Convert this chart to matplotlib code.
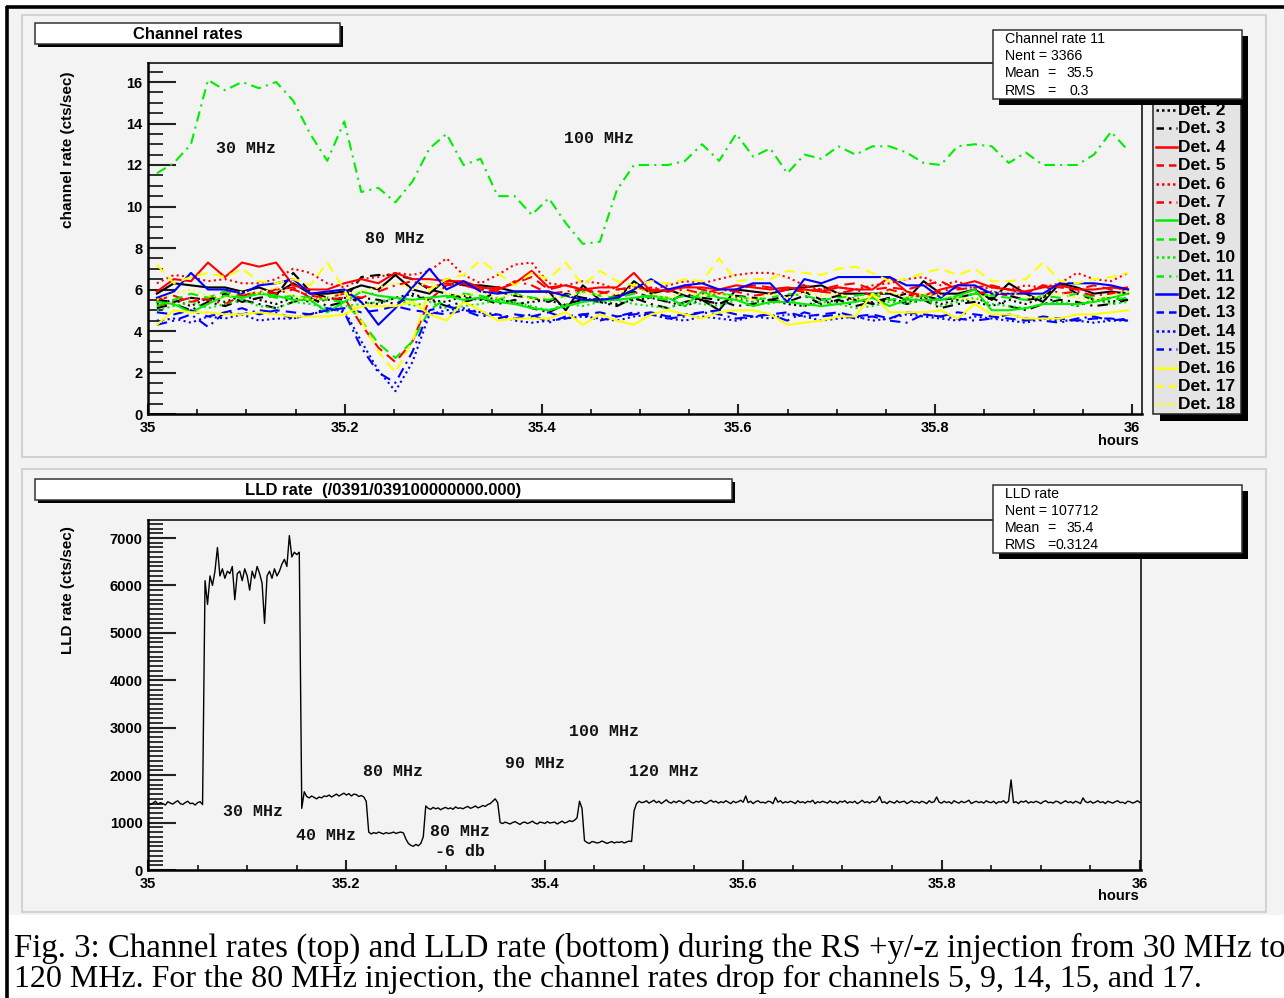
import numpy as np
import matplotlib
matplotlib.use("Agg")
import matplotlib.pyplot as plt
from matplotlib.patches import Rectangle
from matplotlib.ticker import MultipleLocator, FuncFormatter

plt.rcParams['font.family'] = ['Liberation Sans', 'DejaVu Sans']

# ---------------- data: channel rates (cts/sec), one-minute bins ----------------
det0 = [5.8, 6.3, 6.2, 6.1, 6.1, 5.9, 6.1, 5.8, 6.3, 5.8,
        5.8, 5.9, 6.2, 6.0, 6.7, 6.0, 5.8, 6.5, 6.2, 6.2,
        6.1, 5.9, 5.9, 5.9, 5.0, 6.2, 5.5, 5.5, 6.4, 5.8,
        6.0, 5.7, 5.5, 5.0, 6.0, 5.9, 5.8, 6.0, 6.1, 6.2,
        5.8, 5.8, 5.8, 5.8, 5.5, 6.4, 5.8, 5.8, 6.0, 5.5,
        6.3, 5.8, 5.4, 6.3, 6.1, 5.8, 5.9, 5.8]
det1 = [5.5, 5.4, 5.6, 5.5, 5.8, 5.4, 5.6, 5.7, 6.8, 5.9,
        5.6, 5.5, 6.6, 6.7, 6.7, 6.5, 6.0, 5.8, 5.6, 5.5,
        5.9, 5.7, 5.6, 5.4, 5.8, 5.6, 5.5, 5.7, 5.9, 5.6,
        5.4, 5.8, 5.5, 5.3, 5.7, 5.6, 5.5, 5.7, 5.9, 5.5,
        5.7, 5.5, 5.3, 5.6, 5.8, 5.7, 5.5, 5.6, 5.8, 5.9,
        5.7, 5.5, 5.6, 6.3, 5.8, 5.5, 5.6, 5.5]
det2 = [5.3, 5.5, 5.2, 5.6, 5.4, 5.7, 5.5, 5.3, 5.6, 5.4,
        5.5, 5.6, 5.4, 5.3, 5.6, 5.8, 5.5, 5.4, 5.7, 5.5,
        5.6, 5.3, 5.4, 5.5, 5.2, 5.6, 5.4, 5.3, 5.5, 5.6,
        5.4, 5.2, 5.5, 5.3, 5.6, 5.4, 5.5, 5.3, 5.2, 5.5,
        5.4, 5.6, 5.3, 5.5, 5.4, 5.6, 5.3, 5.5, 5.4, 5.2,
        5.5, 5.3, 5.6, 5.4, 5.2, 5.5, 5.4, 5.6]
det3 = [5.1, 5.3, 5.0, 5.4, 5.2, 5.5, 5.3, 5.1, 5.4, 5.6,
        5.2, 5.4, 5.6, 5.5, 5.3, 5.7, 5.5, 5.2, 5.4, 5.6,
        5.3, 5.5, 5.1, 4.9, 5.3, 5.5, 5.4, 5.2, 5.6, 5.3,
        5.1, 5.4, 5.6, 5.5, 5.2, 5.3, 5.5, 5.4, 5.7, 5.3,
        5.5, 5.2, 5.4, 5.6, 5.3, 5.5, 5.1, 5.3, 5.4, 5.6,
        5.2, 5.0, 5.3, 5.5, 5.4, 5.2, 5.3, 5.5]
det4 = [5.9, 6.5, 6.4, 7.3, 6.6, 7.3, 7.1, 7.3, 6.2, 6.0,
        6.0, 6.3, 6.5, 6.3, 6.8, 6.5, 6.5, 6.4, 6.4, 6.1,
        6.0, 6.3, 6.9, 6.1, 6.2, 6.0, 6.1, 6.1, 6.8, 5.9,
        6.0, 6.1, 6.1, 6.0, 6.2, 6.1, 6.0, 6.1, 6.0, 5.9,
        6.1, 6.0, 6.0, 6.6, 5.9, 5.7, 6.0, 6.2, 6.4, 6.1,
        6.0, 5.9, 6.1, 6.2, 6.0, 6.0, 6.1, 6.0]
det5 = [5.5, 5.7, 5.4, 5.6, 5.9, 5.7, 5.8, 6.0, 6.1, 5.6,
        5.5, 5.6, 4.3, 3.2, 2.5, 3.5, 5.5, 6.2, 6.3, 6.0,
        6.1, 6.3, 6.6, 6.0, 6.2, 6.0, 5.8, 6.0, 6.1, 6.0,
        5.9, 6.2, 6.0, 5.8, 6.0, 6.2, 6.1, 6.0, 5.9, 6.0,
        6.2, 6.3, 6.0, 6.1, 6.0, 6.2, 6.4, 6.0, 6.1, 6.2,
        6.0, 5.8, 6.2, 6.1, 6.0, 6.2, 6.0, 6.1]
det6 = [6.3, 6.7, 6.6, 6.4, 6.5, 6.3, 6.3, 6.5, 7.0, 6.8,
        6.3, 6.1, 6.5, 6.6, 6.8, 6.7, 6.9, 7.5, 6.7, 6.3,
        6.7, 7.2, 7.3, 6.3, 6.2, 6.4, 6.3, 6.0, 6.1, 6.0,
        6.2, 6.4, 6.3, 6.5, 6.7, 6.8, 6.8, 6.6, 6.2, 6.0,
        6.1, 6.0, 6.2, 6.3, 6.5, 6.6, 6.2, 6.4, 6.0, 6.1,
        6.0, 6.2, 6.1, 6.3, 6.8, 6.5, 6.4, 6.8]
det7 = [5.2, 5.4, 5.6, 5.5, 5.3, 5.7, 5.9, 5.8, 6.0, 5.7,
        5.6, 5.8, 5.6, 5.9, 6.2, 6.4, 6.1, 6.3, 6.2, 6.0,
        5.9, 6.4, 6.2, 5.8, 5.9, 6.0, 5.9, 5.7, 5.8, 6.1,
        5.9, 6.0, 5.8, 6.0, 5.9, 5.7, 5.8, 6.0, 6.2, 5.9,
        5.8, 6.0, 5.7, 6.0, 5.8, 5.6, 5.9, 6.1, 5.8, 5.9,
        5.7, 5.9, 6.2, 5.8, 5.9, 5.7, 5.8, 6.0]
det8 = [5.4, 5.3, 4.9, 5.3, 5.7, 5.6, 5.8, 5.7, 5.5, 5.5,
        4.9, 5.4, 5.9, 5.7, 5.6, 5.5, 5.6, 5.7, 5.5, 5.6,
        5.4, 5.3, 5.1, 5.0, 5.2, 5.4, 5.5, 5.5, 5.6, 5.7,
        5.6, 5.2, 5.9, 5.6, 5.5, 5.2, 5.4, 5.4, 5.3, 5.2,
        5.3, 5.4, 5.6, 5.2, 5.5, 5.5, 5.5, 5.7, 6.0, 5.0,
        5.0, 5.1, 5.3, 5.3, 5.3, 5.4, 5.6, 5.8]
det9 = [5.2, 5.5, 5.8, 5.6, 5.9, 5.6, 5.8, 5.6, 5.7, 5.6,
        5.5, 5.4, 4.5, 3.4, 2.7, 3.5, 5.0, 5.6, 5.8, 5.7,
        5.5, 5.8, 5.6, 5.5, 5.7, 5.9, 5.7, 5.6, 5.8, 5.6,
        5.5, 5.7, 5.6, 5.8, 5.7, 5.5, 5.6, 5.8, 5.7, 5.5,
        5.6, 5.7, 5.8, 5.5, 5.6, 5.7, 5.5, 5.6, 5.8, 5.7,
        5.6, 5.5, 5.7, 5.6, 5.8, 5.6, 5.5, 5.6]
det10 = [5.0, 5.2, 5.4, 5.1, 5.3, 5.5, 5.2, 5.1, 5.4, 5.3,
         5.1, 5.2, 5.3, 5.4, 5.6, 5.2, 5.4, 5.1, 5.2, 5.3,
         5.5, 5.4, 5.2, 5.0, 5.3, 5.2, 5.4, 5.5, 5.3, 5.2,
         5.1, 5.4, 5.3, 5.2, 5.5, 5.4, 5.3, 5.6, 5.2, 5.4,
         5.3, 5.1, 5.2, 5.4, 5.3, 5.5, 5.2, 5.4, 5.6, 5.3,
         5.2, 5.1, 5.3, 5.4, 5.2, 5.5, 5.3, 5.4]
det11 = [11.6, 12.1, 13.0, 16.1, 15.6, 16.0, 15.7, 16.0, 15.1, 13.5,
         12.2, 14.1, 10.7, 10.9, 10.2, 11.2, 12.8, 13.5, 12.0, 12.3,
         10.5, 10.5, 9.6, 10.4, 9.2, 8.2, 8.3, 10.8, 12.0, 12.0,
         12.0, 12.2, 13.0, 12.2, 13.5, 12.4, 12.8, 11.6, 12.5, 12.3,
         12.9, 12.5, 12.9, 12.9, 12.6, 12.1, 12.0, 12.9, 13.0, 12.9,
         12.1, 12.6, 12.0, 12.0, 12.0, 12.5, 13.6, 12.7]
det12 = [5.6, 5.9, 6.8, 6.0, 6.0, 5.8, 6.2, 6.3, 6.5, 5.8,
         5.9, 6.0, 5.4, 4.3, 5.1, 6.1, 7.0, 6.0, 6.4, 5.9,
         5.8, 5.9, 5.9, 5.9, 5.7, 5.5, 5.5, 5.6, 6.0, 6.5,
         6.0, 6.2, 6.3, 6.0, 6.0, 6.3, 6.3, 5.4, 6.5, 6.3,
         6.6, 6.6, 6.6, 6.6, 6.2, 6.2, 5.6, 6.2, 6.2, 5.8,
         5.8, 5.8, 5.8, 6.3, 6.3, 6.3, 6.2, 6.0]
det13 = [4.9, 4.8, 5.0, 4.7, 4.9, 5.1, 4.8, 5.0, 4.9, 4.8,
         5.0, 5.1, 4.9, 5.0, 5.2, 5.0, 4.9, 4.8, 5.0, 4.9,
         4.6, 4.8, 4.7, 4.9, 4.6, 4.8, 4.9, 4.7, 4.8, 4.9,
         4.7, 4.8, 4.9, 5.0, 4.8, 4.7, 4.8, 4.9, 4.7, 4.8,
         4.9, 4.7, 4.8, 4.6, 4.9, 4.8, 4.7, 4.9, 4.8, 4.7,
         4.6, 4.5, 4.7, 4.6, 4.5, 4.6, 4.6, 4.5]
det14 = [4.5, 4.6, 4.4, 4.7, 4.6, 4.8, 4.5, 4.6, 4.6, 4.8,
         5.0, 5.0, 3.5, 2.1, 1.1, 2.5, 4.8, 5.0, 5.1, 4.9,
         4.8, 4.5, 4.4, 4.5, 4.6, 4.7, 4.6, 4.5, 4.7, 4.8,
         4.6, 4.5, 4.7, 4.6, 4.5, 4.7, 4.6, 4.8, 4.7, 4.5,
         4.6, 4.7, 4.5, 4.6, 4.8, 4.7, 4.6, 4.5, 4.7, 4.6,
         4.5, 4.4, 4.6, 4.5, 4.5, 4.4, 4.5, 4.5]
det15 = [4.3, 4.5, 4.8, 4.2, 4.9, 4.8, 5.0, 4.9, 4.6, 4.8,
         5.1, 4.9, 3.2, 2.0, 1.5, 3.0, 5.0, 5.2, 5.0, 4.7,
         4.8, 4.6, 4.8, 4.4, 4.7, 4.8, 4.5, 4.7, 4.9, 4.8,
         4.6, 4.7, 4.9, 4.8, 4.6, 4.7, 4.8, 4.5, 4.9, 4.7,
         4.8, 4.6, 4.7, 4.5, 4.4, 4.8, 4.7, 4.6, 4.5, 4.6,
         4.8, 4.6, 4.5, 4.4, 4.6, 4.7, 4.5, 4.6]
det16 = [4.3, 5.0, 4.9, 4.9, 4.8, 4.8, 4.9, 4.8, 4.7, 4.7,
         4.7, 4.8, 5.2, 5.2, 5.2, 5.4, 4.8, 4.5, 5.4, 5.0,
         4.5, 4.6, 4.6, 4.6, 4.9, 4.3, 4.8, 4.5, 4.3, 4.8,
         5.0, 4.8, 4.6, 4.9, 5.0, 5.0, 4.8, 4.3, 4.4, 4.5,
         4.7, 4.7, 5.8, 4.9, 4.9, 4.9, 5.0, 4.6, 5.3, 4.8,
         4.8, 4.6, 4.6, 4.6, 4.8, 4.8, 4.9, 5.0]
det17 = [7.2, 6.3, 6.6, 6.8, 6.6, 7.0, 6.4, 6.3, 6.5, 6.2,
         7.3, 6.0, 4.5, 3.0, 2.0, 3.5, 6.0, 6.5, 6.7, 7.4,
         6.8, 6.2, 6.8, 6.5, 7.3, 6.2, 6.9, 6.4, 6.2, 6.4,
         6.3, 6.5, 6.4, 7.5, 6.4, 6.5, 6.5, 6.9, 6.8, 6.7,
         7.0, 7.1, 6.8, 6.4, 6.5, 6.8, 7.0, 6.7, 7.0, 6.4,
         6.4, 6.5, 7.3, 6.4, 6.3, 6.5, 6.6, 6.8]
det18 = [5.5, 5.8, 6.0, 5.7, 5.6, 5.9, 5.8, 6.1, 5.7, 5.5,
         5.6, 5.8, 5.9, 6.1, 6.3, 6.0, 6.4, 5.8, 5.7, 5.9,
         5.6, 5.8, 5.5, 5.7, 5.6, 5.9, 5.7, 5.8, 6.1, 5.8,
         5.6, 5.9, 5.7, 5.8, 5.6, 5.5, 5.8, 5.6, 5.9, 5.7,
         5.8, 5.5, 5.7, 5.9, 5.6, 5.8, 5.7, 5.6, 5.5, 5.8,
         5.9, 5.6, 5.7, 5.8, 5.6, 5.5, 5.7, 5.9]

channels = [det0, det1, det2, det3, det4, det5, det6, det7, det8, det9,
            det10, det11, det12, det13, det14, det15, det16, det17, det18]
det_names = ["Det. %d" % k for k in range(19)]
det_colors = ['black'] * 4 + ['#ff0000'] * 4 + ['#00ee00'] * 4 + ['#0000ff'] * 4 + ['#ffff00'] * 3
det_styles = ['solid', 'dashed', 'dotted', 'dashdot'] * 4 + ['solid', 'dashed', 'dotted']

# ---------------- data: LLD rate (cts/sec), 9 s bins ----------------
lld_rate = [
    1430, 1380, 1410, 1450, 1390, 1420, 1400, 1370, 1440, 1410, 1390, 1430, 1460, 1400, 1380, 1420, 1450, 1400, 1410, 1370,
    1420, 1440, 1380, 6100, 5600, 6200, 6000, 6300, 6800, 6200, 6350, 6150, 6300, 6250, 6400, 5700, 6250, 6300, 6100, 6350,
    6200, 5900, 6300, 6150, 6400, 6250, 6050, 5200, 6200, 6300, 6150, 6350, 6200, 6300, 6450, 6550, 6400, 7050, 6600, 6700,
    6650, 6700, 1300, 1650, 1550, 1520, 1560, 1530, 1500, 1540, 1520, 1560, 1550, 1580, 1540, 1570, 1600, 1560, 1590, 1620,
    1580, 1610, 1560, 1600, 1590, 1550, 1570, 1540, 1450, 800, 760, 790, 770, 800, 780, 760, 790, 770, 780, 800,
    770, 790, 800, 780, 650, 560, 520, 500, 540, 510, 560, 700, 1350, 1300, 1280, 1320, 1290, 1310, 1270, 1300,
    1320, 1290, 1310, 1280, 1330, 1300, 1310, 1290, 1320, 1340, 1300, 1320, 1350, 1310, 1330, 1360, 1340, 1380, 1400, 1450,
    1500, 1420, 1000, 980, 1010, 990, 970, 1000, 1020, 990, 960, 1000, 1010, 980, 1000, 1030, 990, 970, 1010, 1000,
    980, 1020, 990, 1000, 1010, 970, 1000, 1030, 990, 1010, 1040, 1020, 1050, 1100, 1450, 1300, 620, 580, 560, 600,
    590, 570, 580, 610, 590, 560, 580, 600, 570, 590, 580, 600, 570, 590, 610, 600, 1250, 1400, 1450, 1420,
    1430, 1460, 1410, 1440, 1470, 1420, 1450, 1400, 1440, 1480, 1430, 1410, 1450, 1420, 1460, 1440, 1400, 1450, 1470, 1430,
    1410, 1450, 1430, 1460, 1420, 1400, 1440, 1470, 1430, 1450, 1410, 1440, 1420, 1460, 1430, 1400, 1450, 1420, 1440, 1470,
    1430, 1560, 1420, 1450, 1400, 1440, 1460, 1420, 1430, 1410, 1450, 1440, 1400, 1530, 1430, 1460, 1410, 1440, 1420, 1450,
    1430, 1400, 1460, 1420, 1440, 1410, 1450, 1430, 1470, 1400, 1440, 1420, 1450, 1430, 1410, 1460, 1420, 1440, 1400, 1450,
    1430, 1460, 1410, 1440, 1420, 1450, 1400, 1430, 1470, 1420, 1440, 1410, 1450, 1430, 1460, 1550, 1420, 1440, 1400, 1450,
    1430, 1410, 1460, 1420, 1440, 1450, 1400, 1430, 1460, 1420, 1440, 1410, 1450, 1430, 1400, 1460, 1420, 1440, 1540, 1430,
    1410, 1450, 1420, 1440, 1400, 1460, 1430, 1410, 1450, 1420, 1440, 1470, 1400, 1430, 1450, 1420, 1440, 1410, 1460, 1430,
    1420, 1450, 1400, 1440, 1430, 1460, 1410, 1450, 1900, 1420, 1440, 1400, 1450, 1430, 1460, 1410, 1440, 1420, 1450, 1430,
    1400, 1440, 1460, 1420, 1430, 1410, 1450, 1440, 1400, 1430, 1460, 1420, 1440, 1410, 1450, 1430, 1400, 1520, 1440, 1420,
    1450, 1410, 1430, 1460, 1420, 1440, 1400, 1450, 1430, 1410, 1440, 1460, 1420, 1430, 1400, 1450, 1440, 1410, 1430, 1460,
    1420]

top_notes = ["30 MHz", "80 MHz", "100 MHz"]
bottom_notes = ["30 MHz", "40 MHz", "80 MHz", "80 MHz", "-6 db", "90 MHz", "100 MHz", "120 MHz"]

chan_time = np.linspace(35.009, 35.996, len(det0))          # hours (bin centres)
lld_time = 35.0 + 0.0025 * np.arange(len(lld_rate))         # hours

# ---------------- figure / layout ----------------
W, H = 1284, 998
fig = plt.figure(figsize=(W / 100, H / 100), dpi=100)
fig.patch.set_facecolor('white')


def rect_px(x0, y0, x1, y1):
    return [x0 / W, 1 - y1 / H, (x1 - x0) / W, (y1 - y0) / H]


bg = fig.add_axes([0, 0, 1, 1], zorder=0)
bg.set_xlim(0, W); bg.set_ylim(H, 0); bg.axis('off')
bg.add_patch(Rectangle((9, 9), W - 9, 906, fc='#f3f3f3', ec='none'))
bg.add_patch(Rectangle((22, 15), 1244, 442, fill=False, ec='#d2d2d2', lw=1.5))
bg.add_patch(Rectangle((22, 469), 1244, 443, fill=False, ec='#d2d2d2', lw=1.5))
bg.plot([7, 7], [6, H], color='black', lw=2.6, solid_capstyle='butt')
bg.plot([6, W], [7, 7], color='black', lw=2.6, solid_capstyle='butt')

TICKFONT = dict(family='Liberation Sans', weight='bold', size=10.5)


def style_axes(ax, ymajor, yminor):
    ax.set_facecolor('none')
    for s in ['left', 'bottom']:
        ax.spines[s].set_linewidth(1.8)
    for s in ['top', 'right']:
        ax.spines[s].set_linewidth(1.1)
    ax.xaxis.set_major_locator(MultipleLocator(0.2))
    ax.xaxis.set_minor_locator(MultipleLocator(0.05))
    ax.yaxis.set_major_locator(MultipleLocator(ymajor))
    ax.yaxis.set_minor_locator(MultipleLocator(yminor))
    ax.xaxis.set_major_formatter(FuncFormatter(lambda v, p: "%g" % round(v, 3)))
    ax.yaxis.set_major_formatter(FuncFormatter(lambda v, p: "%d" % round(v)))
    ax.tick_params(axis='y', which='major', direction='in', length=20, width=1.5, color='#222222', pad=4, left=True, right=False)
    ax.tick_params(axis='y', which='minor', direction='in', length=10.8, width=1.3, color='#222222', left=True, right=False)
    ax.tick_params(axis='x', which='major', direction='in', length=7.5, width=1.5, color='#222222', pad=5, bottom=True, top=False)
    ax.tick_params(axis='x', which='minor', direction='in', length=3.8, width=1.3, color='#222222', bottom=True, top=False)
    for lab in ax.get_xticklabels() + ax.get_yticklabels():
        lab.set_fontproperties(matplotlib.font_manager.FontProperties(**TICKFONT))


# ---- top: channel rates ----
axT = fig.add_axes(rect_px(148, 63, 1142, 414), zorder=1)
for vals, col, ls in zip(channels, det_colors, det_styles):
    dash = {'solid': '-', 'dashed': (0, (5, 3)), 'dotted': (0, (1, 1.6)), 'dashdot': (0, (5, 2.5, 1, 2.5))}[ls]
    axT.plot(chan_time, vals, color=col, linestyle=dash, lw=1.5)
axT.set_xlim(35, 35 + (1142 - 148) / 984)
axT.set_ylim(0, (414 - 63) / 20.75)
style_axes(axT, 2, 0.5)

# ---- bottom: LLD rate ----
axB = fig.add_axes(rect_px(148, 520, 1141, 870), zorder=1)
axB.plot(lld_time, lld_rate, color='black', lw=1.0)
axB.set_xlim(35, 35 + (1141 - 148) / 992)
axB.set_ylim(0, (870 - 520) / (332 / 7000))
style_axes(axB, 1000, 100)

# ---------------- foreground decorations ----------------
fg = fig.add_axes([0, 0, 1, 1], zorder=3)
fg.set_xlim(0, W); fg.set_ylim(H, 0); fg.axis('off')


def shadow_box(x0, y0, x1, y1, off, fc='white', ec='#333333', z=6):
    fg.add_patch(Rectangle((x0 + off, y0 + off), x1 - x0, y1 - y0, fc='black', ec='none', zorder=z))
    fg.add_patch(Rectangle((x0, y0), x1 - x0, y1 - y0, fc=fc, ec=ec, lw=1.1, zorder=z + 0.1))


# title boxes
shadow_box(35, 23, 340, 44, 3)
fg.text(188, 34, "Channel rates", ha='center', va='center', fontsize=12, weight='bold', zorder=7)
shadow_box(35, 479, 732, 500, 3)
fg.text(383, 490, "LLD rate  (/0391/039100000000.000)", ha='center', va='center', fontsize=12, weight='bold', zorder=7)

# axis titles
bg.text(68, 150, "channel rate (cts/sec)", rotation=90, ha='center', va='center', fontsize=11, weight='bold')
bg.text(68, 590, "LLD rate (cts/sec)", rotation=90, ha='center', va='center', fontsize=11, weight='bold')
bg.text(1139, 441, "hours", ha='right', va='center', fontsize=10.5, weight='bold')
bg.text(1139, 896, "hours", ha='right', va='center', fontsize=10.5, weight='bold')

# legend (drawn beneath the statistics box, which hides its first rows)
shadow_box(1153, 62, 1241, 414, 7, fc='#e4e4e4', ec='#222222', z=4)
for k, (name, col, ls) in enumerate(zip(det_names, det_colors, det_styles)):
    yy = 110 + (k - 2) * 18.4
    dash = {'solid': '-', 'dashed': (0, (3, 2)), 'dotted': (0, (1, 1.2)), 'dashdot': (0, (3, 2, 1, 2))}[ls]
    fg.plot([1156, 1177], [yy, yy], color=col, linestyle=dash, lw=1.8, zorder=5)
    fg.text(1178, yy + 0.5, name, ha='left', va='center', fontsize=12.5, weight='bold', zorder=5)

# stats boxes
SF = dict(ha='left', va='center', fontsize=10.2, zorder=8)
shadow_box(993, 30, 1242, 99, 6)
fg.text(1005, 39, "Channel rate 11", **SF)
fg.text(1005, 56, "Nent = 3366", **SF)
fg.text(1005, 73, "Mean", **SF); fg.text(1047, 73, "=", **SF); fg.text(1067, 73, "35.5", **SF)
fg.text(1005, 91, "RMS", **SF); fg.text(1047, 91, "=", **SF); fg.text(1070, 91, "0.3", **SF)
shadow_box(993, 485, 1242, 553, 6)
fg.text(1005, 494, "LLD rate", **SF)
fg.text(1005, 511, "Nent = 107712", **SF)
fg.text(1005, 528, "Mean", **SF); fg.text(1047, 528, "=", **SF); fg.text(1067, 528, "35.4", **SF)
fg.text(1005, 545, "RMS", **SF); fg.text(1047, 545, "=", **SF); fg.text(1056, 545, "0.3124", **SF)

# frequency annotations
NF = dict(ha='center', va='center', fontsize=12, family='Liberation Mono', weight='bold', color='#111111')
for txt, (px, py) in zip(top_notes, [(246, 148), (395, 238), (599, 138)]):
    fg.text(px, py, txt, **NF)
for txt, (px, py) in zip(bottom_notes, [(253, 812), (326, 835), (393, 771), (460, 832),
                                        (460, 851), (535, 763), (604, 732), (664, 771)]):
    fg.text(px, py, txt, **NF)

# caption
line1 = "Fig. 3: Channel rates (top) and LLD rate (bottom) during the RS +y/-z injection from 30 MHz to"
line2 = "120 MHz. For the 80 MHz injection, the channel rates drop for channels 5, 9, 14, 15, and 17."
c1 = bg.text(14, 948, line1, ha='left', va='center', family='Liberation Serif', fontsize=21)
c2 = bg.text(14, 979, line2, ha='left', va='center', family='Liberation Serif', fontsize=21)
fig.canvas.draw()
r = fig.canvas.get_renderer()
c1.set_fontsize(21 * 1266 / c1.get_window_extent(r).width)
c2.set_fontsize(21 * 1188 / c2.get_window_extent(r).width)

fig.savefig("out.png", dpi=100, facecolor='white')
